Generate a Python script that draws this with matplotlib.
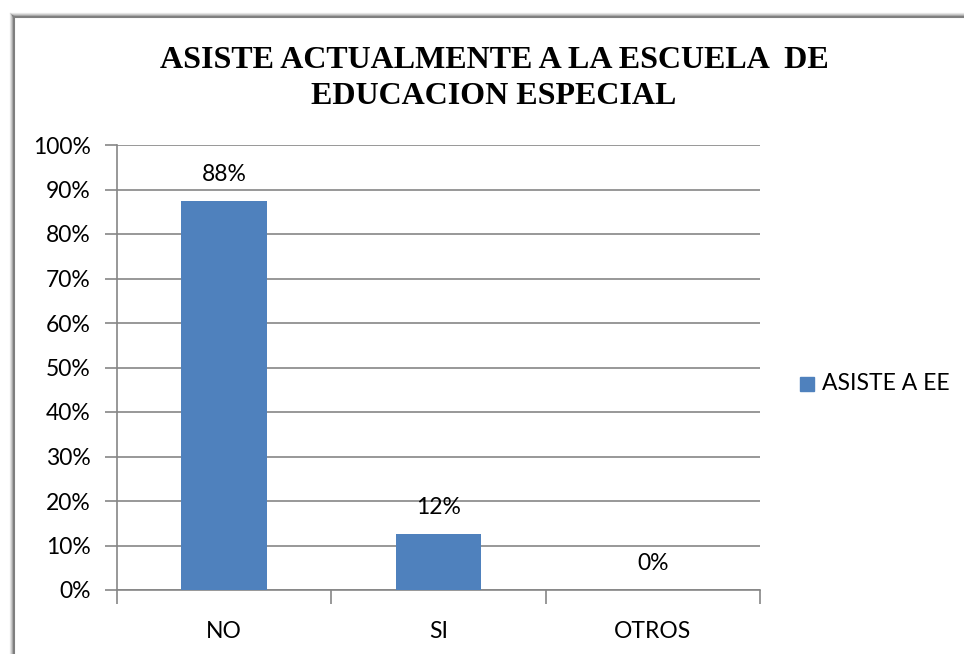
import matplotlib.pyplot as plt
from matplotlib.lines import Line2D
from matplotlib.patches import Rectangle

# datos
categorias = ["NO", "SI", "OTROS"]
valores = [0.875, 0.125, 0.0]
etiquetas = ["88%", "12%", "0%"]
ticks_y = [0, 0.1, 0.2, 0.3, 0.4, 0.5, 0.6, 0.7, 0.8, 0.9, 1.0]
serie = "ASISTE A EE"

W, H = 964, 654
fig = plt.figure(figsize=(W / 100, H / 100), dpi=100)
fuente = "Lato"
azul = "#4F81BD"
gris = "#868686"
tam = 16.5

# marco del grafico con sombra
for i, a in enumerate([0.08, 0.15, 0.25, 0.4]):
    fig.add_artist(Line2D([(10 + i) / W, (10 + i) / W], [0, 1 - (13 + i) / H],
                          transform=fig.transFigure, color="black", alpha=a, lw=1))
    fig.add_artist(Line2D([(10 + i) / W, 1], [1 - (13 + i) / H, 1 - (13 + i) / H],
                          transform=fig.transFigure, color="black", alpha=a, lw=1))
fig.add_artist(Line2D([14 / W, 14 / W], [0, 1 - 17 / H], transform=fig.transFigure,
                      color="#7f7f7f", lw=1.5))
fig.add_artist(Line2D([14 / W, 1], [1 - 17 / H, 1 - 17 / H], transform=fig.transFigure,
                      color="#7f7f7f", lw=1.5))

x0, x1, y0, y1 = 117, 760, 590, 145
ax = fig.add_axes([x0 / W, 1 - y0 / H, (x1 - x0) / W, (y0 - y1) / H])

pos = range(len(categorias))
ax.bar(pos, valores, width=0.4, color=azul, zorder=3)
ax.set_xlim(-0.5, len(categorias) - 0.5)
ax.set_ylim(0, 1)
ax.set_yticks(ticks_y)
ax.set_yticklabels([f"{int(round(t * 100))}%" for t in ticks_y], fontfamily=fuente, fontsize=tam)
ax.set_xticks([p - 0.5 for p in pos] + [len(categorias) - 0.5], minor=False)
ax.set_xticklabels([])
ax.set_xticks(list(pos), minor=True)
ax.set_xticklabels(categorias, minor=True, fontfamily=fuente, fontsize=tam)
ax.tick_params(axis="x", which="minor", length=0, pad=22)
ax.tick_params(axis="x", which="major", length=10, color=gris, width=1.2)
ax.tick_params(axis="y", length=9, color=gris, width=1.2, pad=10)
ax.grid(axis="y", color=gris, lw=1.2, zorder=0)
for s in ["top", "right"]:
    ax.spines[s].set_visible(False)
ax.spines["left"].set_color(gris)
ax.spines["left"].set_linewidth(1.2)
ax.spines["bottom"].set_color(gris)
ax.spines["bottom"].set_linewidth(1.2)

for p, v, t in zip(pos, valores, etiquetas):
    ax.annotate(t, (p, v), xytext=(0, 19), textcoords="offset points", ha="center",
                va="center", fontfamily=fuente, fontsize=tam)

fig.text(494 / W, 1 - 61 / H, "ASISTE ACTUALMENTE A LA ESCUELA  DE", ha="center", va="center",
         fontfamily="Liberation Serif", fontweight="bold", fontsize=23)
fig.text(494 / W, 1 - 97 / H, "EDUCACION ESPECIAL", ha="center", va="center",
         fontfamily="Liberation Serif", fontweight="bold", fontsize=23)

# leyenda
fig.add_artist(Rectangle((800 / W, 1 - 391 / H), 14 / W, 14 / H, transform=fig.transFigure,
                         color=azul))
fig.text(822 / W, 1 - 384 / H, serie, ha="left", va="center", fontfamily=fuente, fontsize=tam)

fig.savefig("out.png", dpi=100)
